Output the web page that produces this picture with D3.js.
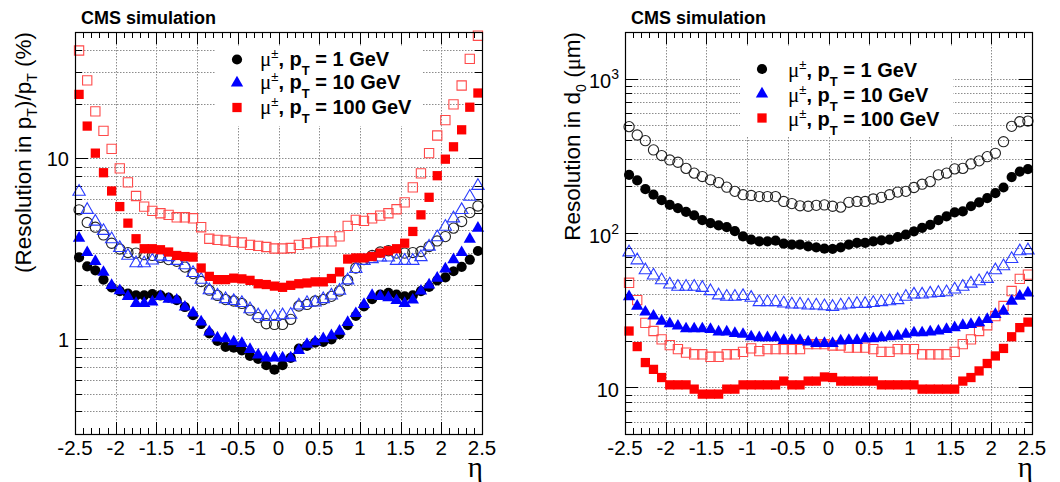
<!DOCTYPE html>
<html>
<head>
<meta charset="utf-8">
<script src="https://cdn.jsdelivr.net/npm/d3@7"></script>
<style>
  body { margin: 0; background: #fff; }
  svg text { font-family: "Liberation Sans", Arial, sans-serif; fill: #000; }
</style>
</head>
<body>
<div id="chart"></div>
<script>
// bin centres in eta
const eta = [-2.45,-2.35,-2.25,-2.15,-2.05,-1.95,-1.85,-1.75,-1.65,-1.55,-1.45,-1.35,-1.25,-1.15,-1.05,-0.95,-0.85,-0.75,-0.65,-0.55,-0.45,-0.35,-0.25,-0.15,-0.05,
             0.05,0.15,0.25,0.35,0.45,0.55,0.65,0.75,0.85,0.95,1.05,1.15,1.25,1.35,1.45,1.55,1.65,1.75,1.85,1.95,2.05,2.15,2.25,2.35,2.45];

// left panel: pT resolution (%)
const ptFilled1 = [2.84,2.53,2.41,2.14,1.94,1.85,1.79,1.75,1.75,1.78,1.75,1.70,1.65,1.51,1.36,1.22,1.08,0.98,0.91,0.90,0.87,0.81,0.78,0.72,0.68,
                   0.72,0.79,0.89,0.92,0.96,0.97,1.00,1.07,1.20,1.35,1.52,1.67,1.77,1.81,1.77,1.73,1.75,1.85,1.95,2.12,2.20,2.38,2.52,2.76,3.08];
const ptOpen1 = [5.20,4.43,4.17,3.78,3.40,3.16,3.02,3.00,2.94,2.91,2.84,2.76,2.70,2.51,2.31,2.09,1.87,1.75,1.66,1.63,1.58,1.45,1.32,1.22,1.21,
                 1.21,1.29,1.53,1.56,1.63,1.66,1.73,1.85,2.12,2.48,2.76,2.91,3.04,3.09,3.00,3.00,3.02,3.06,3.26,3.50,3.70,4.12,4.48,5.02,5.46];
const ptFilled10 = [3.63,3.02,2.70,2.35,1.99,1.86,1.73,1.58,1.58,1.61,1.73,1.67,1.65,1.51,1.40,1.25,1.10,1.02,1.01,0.97,0.95,0.88,0.82,0.79,0.79,
                    0.79,0.79,0.87,0.94,0.97,1.01,1.05,1.11,1.24,1.39,1.56,1.75,1.73,1.70,1.64,1.58,1.65,1.85,2.00,2.18,2.45,2.76,3.02,3.58,4.12];
const ptOpen10 = [6.55,5.20,4.48,3.98,3.58,3.20,2.90,2.64,2.64,2.73,2.87,2.85,2.72,2.57,2.33,2.14,1.87,1.75,1.67,1.63,1.59,1.47,1.36,1.33,1.33,
                  1.36,1.37,1.54,1.59,1.60,1.67,1.75,1.86,2.12,2.45,2.72,2.78,2.84,2.84,2.72,2.72,2.72,2.85,3.26,3.67,4.20,4.67,5.19,6.15,7.06];
const ptFilled100 = [22.6,15.1,10.7,8.34,6.61,5.42,4.39,3.60,3.17,3.17,3.13,3.04,2.91,2.87,2.85,2.48,2.23,2.14,2.14,2.18,2.16,2.12,2.03,2.01,1.97,
                     1.94,1.99,2.03,2.05,2.08,2.08,2.17,2.36,2.78,2.82,2.82,2.87,3.00,3.09,3.17,3.40,3.95,4.88,6.10,8.03,9.91,11.6,14.4,19.2,23.0];
const ptOpen100 = [39.5,27.0,18.2,14.2,11.3,8.81,7.38,6.20,5.42,5.13,4.98,4.88,4.73,4.73,4.67,4.17,3.60,3.55,3.52,3.46,3.43,3.33,3.29,3.24,3.18,
                   3.18,3.20,3.33,3.40,3.45,3.48,3.48,3.71,4.24,4.58,4.52,4.67,4.83,4.98,5.24,5.72,6.92,8.27,10.7,13.4,16.3,19.9,25.3,35.5,47.7];

// right panel: d0 resolution (um)
const d0Filled1 = [238,219,192,177,163,152,145,137,130,121,116,112,109,103,95,90.5,88.4,88.4,89.2,85.3,84.1,84.1,82.0,80.8,79.2,
                   79.0,80.8,84.1,86.2,86.2,88.4,89.6,90.6,94.2,97.6,102.5,108,113,121,128,136,138,149,158,168,181,197,230,250,259];
const d0Open1 = [488,431,396,345,317,297,287,262,244,232,221,212,198,186,177,175,172,172,172,160,155,150,149,151,152,
                 149,147,158,160,160,166,170,177,184,186,197,207,215,238,244,260,262,280,293,312,328,390,490,525,530];
const d0Filled10 = [38.7,33.6,30.8,29.0,26.9,25.9,25.0,24.0,24.0,24.0,23.8,22.9,22.9,22.4,22.1,21.3,21.0,21.0,21.0,20.2,20.2,20.2,19.7,19.3,19.3,
                    19.3,20.0,20.2,20.2,20.7,20.7,21.0,21.3,21.5,22.1,22.6,22.6,22.9,23.2,23.8,24.4,25.2,25.6,26.3,27.6,29.7,31.2,36.2,39.0,41.0];
const d0Open10 = [75.0,66.6,57.4,53.1,49.5,46.5,44.9,44.9,44.9,44.2,42.1,39.5,38.7,38.7,39.1,38.1,35.7,35.7,35.7,35.0,34.5,34.5,34.0,34.0,33.6,
                  33.3,34.0,34.5,34.8,34.8,35.3,35.7,36.2,36.8,38.7,40.0,40.0,40.6,41.0,41.4,43.1,44.9,47.1,48.8,50.5,57.4,61.0,68.0,76.2,77.3];
const d0Filled100 = [23.2,18.4,14.5,13.1,11.6,10.4,10.4,10.4,9.76,9.06,9.06,9.06,9.76,9.76,10.4,10.4,10.4,10.4,10.4,11.0,10.4,10.4,11.0,11.0,11.7,
                     11.6,11.0,11.0,11.0,11.0,11.0,10.4,10.4,10.4,10.4,10.4,9.76,9.76,9.76,9.76,9.76,11.0,11.6,12.8,14.3,16.0,17.9,21.3,24.4,26.5];
const d0Open100 = [47.6,36.8,26.2,23.2,20.5,18.8,17.7,16.8,16.4,16.4,15.8,15.8,16.4,16.4,17.0,17.9,17.2,17.7,17.7,17.7,17.7,17.7,19.1,19.1,19.1,
                   18.7,18.7,18.1,18.1,18.1,17.7,17.0,17.0,17.7,17.7,17.7,16.4,16.4,16.4,16.4,17.0,19.1,20.5,23.2,25.3,29.0,33.7,42.1,50.5,53.8];

// tick labels
const xMajor = [-2.5,-2,-1.5,-1,-0.5,0,0.5,1,1.5,2,2.5];
const xLabels = ["-2.5","-2","-1.5","-1","-0.5","0","0.5","1","1.5","2","2.5"];
const ptYLabels = [1, 10];
const d0YLabels = [10, 100, 1000];
const legendNames = ["1 GeV", "10 GeV", "100 GeV"];

const W = 1060, H = 482;
const svg = d3.select('#chart').append('svg')
  .attr('width', W).attr('height', H)
  .attr('viewBox', [0, 0, W, H]);

const sym = {
  circle: d3.symbol().type(d3.symbolCircle).size(82),
  triangle: d3.symbol().type(d3.symbolTriangle).size(66),
  square: d3.symbol().type(d3.symbolSquare).size(86)
};
const openStroke = { circle: '#222', triangle: '#2a3cff', square: '#ff4a4a' };
const fillColor = { circle: '#000', triangle: '#0000ff', square: '#ff0000' };

function drawPanel(p) {
  const x = d3.scaleLinear().domain([-2.5, 2.5]).range([p.left, p.right]);
  const y = d3.scaleLog().domain(p.yDomain).range([p.bottom, p.top]);
  const g = svg.append('g');

  // dotted grid
  const grid = g.append('g').attr('stroke', '#8c8c8c').attr('stroke-width', 1)
    .attr('stroke-dasharray', '1.5,1.5');
  grid.selectAll('line.h').data(y.ticks().filter(v => v > p.yDomain[0] && v < p.yDomain[1]))
    .join('line').attr('class', 'h')
    .attr('x1', p.left).attr('x2', p.right)
    .attr('y1', d => Math.round(y(d)) + 0.5).attr('y2', d => Math.round(y(d)) + 0.5);
  grid.selectAll('line.v').data(xMajor.slice(1, -1))
    .join('line').attr('class', 'v')
    .attr('y1', p.top).attr('y2', p.bottom)
    .attr('x1', d => Math.round(x(d)) + 0.5).attr('x2', d => Math.round(x(d)) + 0.5);

  // legend box hides the grid
  g.append('rect').attr('x', p.legend.x).attr('y', p.legend.y)
    .attr('width', p.legend.w).attr('height', p.legend.h).attr('fill', '#fff');

  // ticks
  const tk = g.append('g').attr('stroke', '#000').attr('stroke-width', 1);
  const isMajorY = v => Math.abs(Math.log10(v) - Math.round(Math.log10(v))) < 1e-9;
  y.ticks().forEach(v => {
    const len = isMajorY(v) ? 13 : 7;
    const yy = Math.round(y(v)) + 0.5;
    tk.append('line').attr('x1', p.left).attr('x2', p.left + len).attr('y1', yy).attr('y2', yy);
    tk.append('line').attr('x1', p.right).attr('x2', p.right - len).attr('y1', yy).attr('y2', yy);
  });
  x.ticks(50).forEach(v => {
    const major = Math.abs(v * 2 - Math.round(v * 2)) < 1e-9;
    const len = major ? 12 : 6;
    const xx = Math.round(x(v)) + 0.5;
    tk.append('line').attr('x1', xx).attr('x2', xx).attr('y1', p.bottom).attr('y2', p.bottom - len);
    tk.append('line').attr('x1', xx).attr('x2', xx).attr('y1', p.top).attr('y2', p.top + len);
  });

  // markers: open series first, then filled
  const order = p.series.filter(s => !s.filled).concat(p.series.filter(s => s.filled));
  order.forEach(s => {
    g.append('g').selectAll('path')
      .data(s.values.map((v, i) => [eta[i], v]))
      .join('path')
      .attr('d', sym[s.shape])
      .attr('transform', d => `translate(${x(d[0])},${y(d[1])})`)
      .attr('fill', s.filled ? fillColor[s.shape] : 'none')
      .attr('stroke', s.filled ? 'none' : openStroke[s.shape])
      .attr('stroke-width', 1.1);
  });

  // frame
  g.append('rect').attr('x', p.left + 0.5).attr('y', p.top + 0.5)
    .attr('width', p.right - p.left).attr('height', p.bottom - p.top)
    .attr('fill', 'none').attr('stroke', '#000').attr('stroke-width', 1.2);

  // x tick labels
  g.selectAll('text.xl').data(xMajor).join('text').attr('class', 'xl')
    .attr('x', d => x(d)).attr('y', 455).attr('text-anchor', 'middle')
    .attr('font-size', 20.5).text((d, i) => xLabels[i]);

  // y tick labels
  p.yLabels.forEach(v => {
    const t = g.append('text').attr('x', p.left - 6).attr('y', y(v) + p.yLabelDy)
      .attr('text-anchor', 'end').attr('font-size', 20);
    const e = Math.round(Math.log10(v));
    if (p.powers && e > 1) {
      t.append('tspan').text('10');
      t.append('tspan').attr('font-size', 14).attr('dy', -9).text(String(e));
    } else {
      t.text(String(v));
    }
  });

  // eta label
  g.append('text').attr('x', p.right + 1).attr('y', 477).attr('text-anchor', 'end')
    .style('font-family', '"Liberation Serif", serif')
    .attr('font-size', 29).text('η');

  // CMS label
  g.append('text').attr('x', p.left + 6).attr('y', 24).attr('font-size', 18)
    .attr('font-weight', 'bold').text('CMS simulation');

  // y title
  const yt = g.append('text')
    .attr('transform', `translate(${p.titleX},${p.top}) rotate(-90)`)
    .attr('text-anchor', 'end').attr('font-size', 22.5);
  p.title.forEach(part => {
    const ts = yt.append('tspan').text(part.t);
    if (part.sub) ts.attr('font-size', 14).attr('dy', 6);
    if (part.back) ts.attr('dy', -6);
    if (part.serif) ts.style('font-family', '"Liberation Serif", serif');
  });

  // legend entries
  p.series.filter(s => s.filled).forEach((s, i) => {
    const ly = p.legend.rows[i];
    g.append('path').attr('d', sym[s.shape])
      .attr('transform', `translate(${p.legend.mx},${ly})`)
      .attr('fill', fillColor[s.shape]);
    const t = g.append('text').attr('x', p.legend.tx).attr('y', ly + p.legend.baseDy)
      .attr('font-size', 20);
    t.append('tspan').style('font-family', '"Liberation Serif", serif').attr('font-size', 21).text('μ');
    t.append('tspan').attr('font-size', 13).attr('dy', -8).text('±');
    t.append('tspan').attr('dy', 8).attr('font-weight', 'bold').text(', p');
    t.append('tspan').attr('font-size', 13).attr('font-weight', 'bold').attr('dy', 9).text('T');
    t.append('tspan').attr('dy', -9).attr('font-weight', 'bold').text(' = ' + legendNames[i]);
  });
}

drawPanel({
  left: 75, right: 482, top: 32, bottom: 434,
  yDomain: [0.3, 50], yLabels: ptYLabels, yLabelDy: 8, powers: false,
  titleX: 31,
  title: [{t: '(Resolution in p'}, {t: 'T', sub: true}, {t: ')/p', back: true},
          {t: 'T', sub: true}, {t: ' (%)', back: true}],
  legend: { x: 215, y: 46, w: 207, h: 80, mx: 237, tx: 260, rows: [59.5, 83, 107.5], baseDy: 6 },
  series: [
    {values: ptOpen1, shape: 'circle', filled: false},
    {values: ptOpen10, shape: 'triangle', filled: false},
    {values: ptOpen100, shape: 'square', filled: false},
    {values: ptFilled1, shape: 'circle', filled: true},
    {values: ptFilled10, shape: 'triangle', filled: true},
    {values: ptFilled100, shape: 'square', filled: true}
  ]
});

drawPanel({
  left: 625, right: 1032, top: 32, bottom: 434,
  yDomain: [5, 2000], yLabels: d0YLabels, yLabelDy: 9.5, powers: true,
  titleX: 580,
  title: [{t: 'Resolution in d'}, {t: '0', sub: true}, {t: ' (', back: true},
          {t: 'μ', serif: true}, {t: 'm)'}],
  legend: { x: 740, y: 46, w: 213, h: 90, mx: 762, tx: 788, rows: [69, 94, 118], baseDy: 8 },
  series: [
    {values: d0Open1, shape: 'circle', filled: false},
    {values: d0Open10, shape: 'triangle', filled: false},
    {values: d0Open100, shape: 'square', filled: false},
    {values: d0Filled1, shape: 'circle', filled: true},
    {values: d0Filled10, shape: 'triangle', filled: true},
    {values: d0Filled100, shape: 'square', filled: true}
  ]
});
</script>
</body>
</html>
